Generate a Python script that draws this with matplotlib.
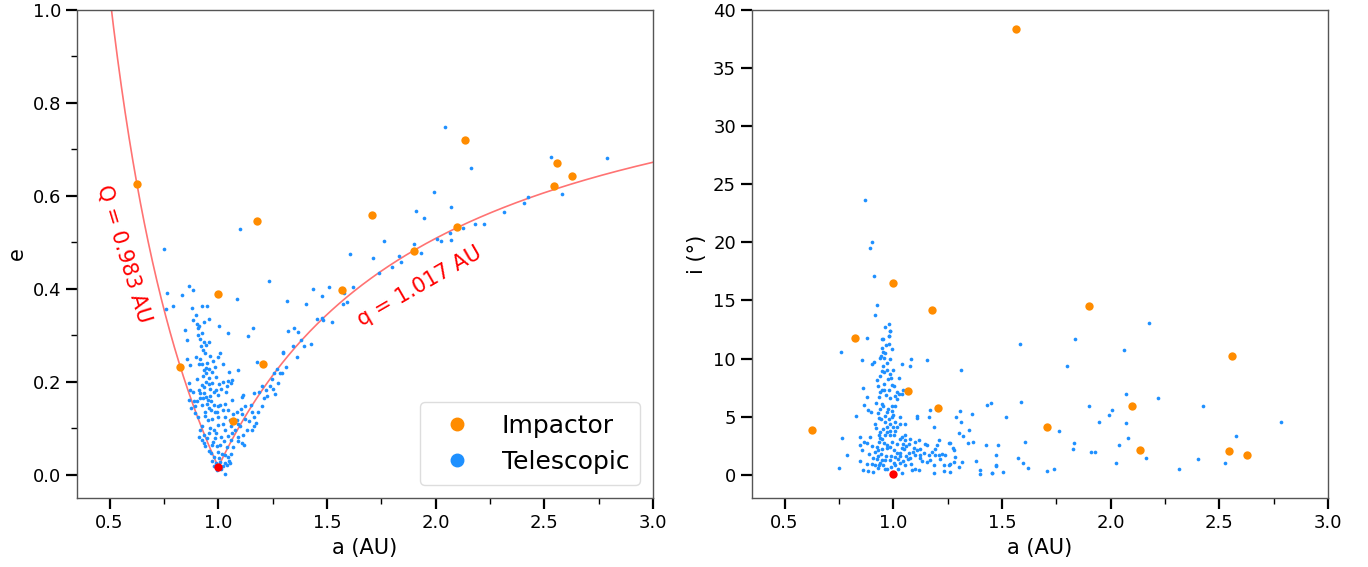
import numpy as np
import matplotlib.pyplot as plt
from matplotlib.lines import Line2D

# impactors (same objects in both panels)
imp_a = [0.625, 0.824, 1.0, 1.068, 1.18, 1.206, 1.567, 1.708, 1.90, 2.098, 2.137, 2.543, 2.557, 2.627]
imp_e = [0.625, 0.232, 0.389, 0.115, 0.545, 0.238, 0.397, 0.558, 0.482, 0.534, 0.720, 0.622, 0.670, 0.642]
imp_i = [3.86, 11.76, 16.5, 7.2, 14.19, 5.78, 38.4, 4.15, 14.5, 5.92, 2.15, 2.03, 10.2, 1.74]

# Earth
earth_a, earth_e, earth_i = 1.0, 0.0167, 0.03

# telescopic objects, (a, e)
tel_ae = [
    (2.042, 0.748), (2.164, 0.660), (1.994, 0.608), (2.072, 0.576), (1.911, 0.568), (1.947, 0.553),
    (2.183, 0.539), (2.221, 0.540), (2.125, 0.531), (2.066, 0.520), (2.008, 0.507), (2.025, 0.502),
    (2.071, 0.506), (1.763, 0.502), (1.902, 0.497), (1.931, 0.477), (1.833, 0.470), (1.839, 0.458),
    (1.799, 0.448), (1.711, 0.467), (1.606, 0.475), (1.741, 0.434), (1.232, 0.417), (1.100, 0.529),
    (1.436, 0.399), (1.508, 0.403), (1.621, 0.403), (1.476, 0.385), (1.315, 0.374), (1.404, 0.367),
    (1.580, 0.392), (1.575, 0.368), (1.594, 0.371), (1.456, 0.335), (1.476, 0.338), (1.483, 0.333),
    (1.522, 0.329), (1.321, 0.310), (1.347, 0.315), (1.368, 0.308), (1.159, 0.315), (1.381, 0.289),
    (1.345, 0.278), (1.396, 0.276), (1.428, 0.282), (1.300, 0.265), (1.364, 0.253),
    (2.787, 0.682), (2.531, 0.683), (2.581, 0.605), (2.426, 0.598), (2.407, 0.585), (2.316, 0.566),
    (0.749, 0.485), (0.866, 0.406), (0.883, 0.397), (0.832, 0.387), (0.766, 0.391), (1.088, 0.379),
    (0.791, 0.363), (0.761, 0.356), (0.881, 0.358), (0.925, 0.363), (0.950, 0.363), (0.899, 0.343),
    (0.956, 0.336), (0.884, 0.333), (0.933, 0.328), (0.904, 0.325), (0.910, 0.321), (1.004, 0.320),
    (0.908, 0.315),
    (0.847, 0.312), (0.924, 0.306), (1.047, 0.306), (1.136, 0.299), (0.858, 0.289), (0.932, 0.285),
    (0.959, 0.286), (0.942, 0.280), (0.921, 0.277), (0.929, 0.269), (1.008, 0.263), (0.998, 0.253),
    (0.896, 0.254), (0.855, 0.249), (0.912, 0.238), (0.924, 0.239), (0.869, 0.236), (0.944, 0.229),
    (0.959, 0.228), (0.936, 0.226), (0.970, 0.221), (0.944, 0.220), (1.021, 0.239), (1.178, 0.242),
    (1.298, 0.263), (1.047, 0.201), (1.065, 0.204), (1.051, 0.222), (1.089, 0.226), (1.059, 0.197),
    (1.024, 0.199), (1.001, 0.196), (0.970, 0.197), (0.955, 0.195), (0.924, 0.194), (0.936, 0.189),
    (0.912, 0.183), (0.863, 0.197), (0.869, 0.183), (0.883, 0.179), (0.866, 0.160), (0.875, 0.143),
    (0.893, 0.148), (0.901, 0.159), (0.916, 0.165), (0.942, 0.168), (0.962, 0.170), (0.978, 0.179),
    (0.988, 0.183), (0.936, 0.176), (0.952, 0.161), (0.967, 0.158), (0.927, 0.150), (0.955, 0.143),
    (0.978, 0.150), (0.998, 0.147), (0.985, 0.136), (1.024, 0.140), (1.031, 0.153), (1.062, 0.161),
    (1.085, 0.136), (1.105, 0.141), (1.123, 0.148), (1.116, 0.172), (1.108, 0.168), (1.166, 0.176),
    (1.188, 0.178), (1.200, 0.190), (1.218, 0.183), (1.238, 0.190), (1.254, 0.184), (1.261, 0.174),
    (1.277, 0.197), (1.284, 0.219), (1.295, 0.220), (1.258, 0.220), (1.203, 0.147), (1.185, 0.134),
    (1.166, 0.125), (1.154, 0.134), (1.172, 0.111), (1.166, 0.104), (1.123, 0.120), (1.088, 0.118),
    (1.053, 0.118), (1.031, 0.124), (0.998, 0.124), (0.970, 0.120), (0.952, 0.117), (0.939, 0.127),
    (0.924, 0.104), (0.916, 0.097), (0.936, 0.086), (0.955, 0.090), (0.978, 0.097), (0.990, 0.090),
    (1.011, 0.082), (1.031, 0.097), (1.047, 0.084), (1.065, 0.090), (1.077, 0.097), (1.093, 0.082),
    (1.116, 0.086), (1.120, 0.064), (1.108, 0.068), (1.093, 0.072), (1.059, 0.075), (1.028, 0.072),
    (1.008, 0.064), (0.993, 0.061), (0.970, 0.064), (0.939, 0.062), (0.955, 0.052), (0.982, 0.039),
    (1.001, 0.036), (1.031, 0.043), (1.047, 0.038), (1.050, 0.030), (1.042, 0.021), (1.054, 0.025),
    (1.031, 0.025), (1.024, 0.018), (1.013, 0.012), (1.031, 0.002), (0.993, 0.011), (0.982, 0.018),
    (0.973, 0.029), (0.965, 0.047), (0.924, 0.075), (0.932, 0.068), (0.913, 0.082), (0.947, 0.079),
    (1.131, 0.097), (1.100, 0.104), (1.154, 0.097), (0.886, 0.158), (0.893, 0.133), (0.906, 0.125),
    (1.312, 0.232), (1.270, 0.228), (1.245, 0.205),
    (0.905, 0.300), (0.915, 0.292), (0.940, 0.262), (0.962, 0.255), (0.975, 0.245), (0.918, 0.248),
    (0.950, 0.240), (0.985, 0.232), (0.930, 0.212), (0.955, 0.208), (0.990, 0.210), (0.902, 0.205),
    (0.945, 0.200), (0.960, 0.185), (0.915, 0.175), (0.930, 0.165), (1.000, 0.172), (1.012, 0.185),
    (1.035, 0.178), (1.040, 0.190), (0.948, 0.152), (0.965, 0.140), (0.940, 0.135), (0.995, 0.135),
    (1.010, 0.150), (1.045, 0.140), (1.070, 0.130), (1.000, 0.108), (1.020, 0.110), (1.060, 0.105),
    (0.960, 0.100), (0.985, 0.080), (1.040, 0.060), (1.070, 0.060), (0.975, 0.070), (1.000, 0.050),
    (1.015, 0.045), (1.060, 0.045), (0.990, 0.025), (1.010, 0.028), (1.090, 0.110), (1.140, 0.115),
    (1.110, 0.130), (1.210, 0.165), (1.225, 0.170), (1.150, 0.150),
]

# telescopic objects, (a, i in degrees)
tel_ai = [
    (0.871, 23.63), (0.900, 20.06), (0.891, 19.49), (0.910, 17.14), (0.924, 14.57), (0.914, 13.79),
    (0.960, 12.70), (0.986, 12.39), (0.979, 11.93), (0.950, 11.67), (0.880, 11.79),
    (0.952, 11.67), (0.979, 11.96), (0.984, 12.39), (0.979, 11.25), (0.946, 10.87), (0.953, 10.53),
    (0.964, 10.47), (0.938, 10.02), (0.957, 10.02), (0.984, 9.96), (0.857, 9.90), (0.911, 9.67),
    (0.903, 9.53), (0.760, 10.53), (0.953, 9.39), (0.972, 9.04), (0.957, 8.81), (0.987, 8.67),
    (0.941, 8.53), (0.923, 8.18), (0.990, 8.30), (0.995, 7.73), (1.002, 7.61), (0.862, 7.44),
    (0.946, 7.33), (0.957, 7.33), (0.938, 7.16), (0.979, 7.33), (1.015, 7.16), (1.025, 6.95),
    (1.045, 7.33), (1.041, 6.95), (1.006, 6.75), (1.018, 6.54), (0.880, 6.67), (0.934, 6.67),
    (0.946, 6.10), (0.865, 6.01), (0.941, 5.67), (0.969, 5.44), (0.992, 5.52), (0.992, 5.95),
    (1.010, 5.95), (0.883, 5.61), (0.898, 5.38), (0.829, 5.09), (0.915, 4.38), (0.934, 4.86),
    (0.944, 4.81), (0.964, 5.09), (0.979, 4.81), (0.995, 4.95), (0.987, 4.38), (1.010, 4.58),
    (1.033, 4.95), (1.030, 4.38), (1.056, 4.38), (1.018, 4.09), (0.969, 4.09), (0.999, 4.09),
    (0.953, 3.95), (0.938, 3.66), (0.934, 3.38), (0.938, 3.15), (0.949, 3.09), (0.972, 3.66),
    (0.984, 3.44), (1.002, 3.44), (1.041, 3.23), (1.033, 3.09), (1.056, 3.03), (1.056, 3.44),
    (1.079, 3.09), (1.117, 3.03), (1.102, 2.81), (1.071, 2.66), (1.045, 2.66), (1.018, 2.66),
    (0.995, 2.81), (0.972, 2.58), (0.957, 2.75), (0.934, 2.81), (0.895, 3.23), (0.880, 2.75),
    (0.849, 3.23), (0.846, 2.52), (0.857, 2.09), (0.865, 2.81), (0.765, 3.18), (0.788, 1.66),
    (0.923, 2.38), (0.929, 2.09), (0.949, 2.18), (0.972, 2.29), (0.987, 2.38), (1.002, 2.09),
    (1.018, 1.89), (1.033, 1.89), (1.048, 2.18), (1.071, 1.89), (1.094, 2.29), (1.110, 2.09),
    (1.125, 2.23), (1.148, 2.66), (1.122, 1.66), (1.102, 1.66), (1.079, 1.43), (1.067, 1.32),
    (1.045, 1.15), (1.021, 1.32), (1.002, 1.03), (0.987, 1.23), (0.964, 1.23), (0.949, 1.23),
    (0.929, 1.60), (0.923, 1.32), (0.938, 1.03), (0.953, 0.80), (0.934, 0.80), (0.918, 0.80),
    (0.903, 0.95), (0.880, 0.95), (0.849, 1.15), (0.883, 0.29), (0.862, 0.37), (0.907, 0.23),
    (0.929, 0.57), (0.750, 0.57), (0.972, 0.52), (1.010, 0.86), (1.030, 1.03), (1.041, 0.17),
    (1.087, 0.37), (1.102, 0.52), (1.117, 0.37), (1.133, 1.15), (1.125, 1.43), (1.156, 1.09),
    (1.163, 1.66), (1.186, 0.80), (1.171, 1.23), (1.194, 1.72), (1.209, 1.72), (1.225, 1.80),
    (1.240, 1.72), (1.217, 1.37), (1.232, 0.80), (1.255, 0.80), (1.263, 0.95), (1.278, 1.09),
    (1.286, 1.52), (1.275, 2.29), (1.260, 2.75), (1.278, 2.09), (1.235, 0.29), (1.263, 0.23),
    (1.301, 0.66), (1.316, 1.09), (1.186, 0.17), (1.194, 2.23), (1.209, 3.01), (1.153, 2.60),
    (1.041, 9.53), (1.079, 9.33), (1.082, 9.96), (1.156, 9.84), (1.312, 9.04), (1.168, 5.61),
    (1.163, 4.95), (1.110, 5.04), (1.107, 4.87), (1.189, 4.09), (1.290, 4.95), (1.306, 5.52),
    (1.312, 4.58), (1.362, 5.24), (1.347, 3.81), (1.301, 3.61), (1.321, 3.32), (1.255, 2.75),
    (1.343, 2.75), (1.367, 2.81), (1.431, 6.01), (1.451, 6.18), (1.480, 2.52), (1.427, 2.52),
    (1.474, 1.66), (1.379, 1.15), (1.398, 0.09), (1.401, 0.37), (1.454, 0.17), (1.474, 0.80),
    (2.179, 13.08), (1.582, 11.25), (1.837, 11.67), (2.064, 10.73), (1.798, 9.33), (2.069, 6.93),
    (2.217, 6.64), (1.588, 6.30), (1.900, 5.92), (2.006, 5.58), (1.992, 5.18), (1.519, 5.01),
    (1.945, 4.58), (2.069, 4.47), (2.423, 5.92), (2.784, 4.58), (1.761, 3.75), (2.577, 3.32),
    (2.079, 3.18), (1.605, 2.78), (1.831, 2.75), (1.828, 2.23), (2.040, 2.55), (1.908, 1.92),
    (1.929, 1.92), (1.572, 1.40), (1.595, 1.00), (1.620, 0.57), (1.474, 0.72), (1.456, 0.17),
    (1.506, 0.23), (1.709, 0.29), (1.739, 0.46), (2.023, 1.03), (2.162, 1.40), (2.314, 0.46),
    (2.404, 1.35), (2.528, 0.97),
    (0.965, 11.2), (0.945, 10.2), (0.970, 9.6), (0.948, 8.9), (0.975, 8.2), (0.958, 7.8),
    (0.930, 7.6), (0.965, 6.9), (0.985, 6.6), (0.920, 6.2), (0.955, 5.9), (0.975, 5.7),
    (0.930, 5.3), (1.000, 5.1), (0.960, 4.5), (0.920, 4.0), (0.985, 3.8), (1.010, 3.8),
    (0.960, 3.4), (0.900, 2.5), (0.915, 2.0), (0.945, 1.8), (0.965, 1.6), (0.990, 1.6),
    (1.010, 1.5), (1.030, 1.6), (1.060, 1.6), (1.060, 2.5), (1.090, 2.0), (1.040, 2.3),
    (0.905, 1.4), (0.890, 1.8), (0.960, 0.5), (0.990, 0.7), (1.020, 0.5), (1.055, 0.8),
    (1.080, 0.9), (1.140, 1.9), (1.180, 2.0), (1.200, 2.6), (0.980, 13.0), (0.995, 10.8),
    (1.000, 9.0), (1.025, 8.3),
]

Q_label, q_label = 0.983, 1.017

tel_a1, tel_e = np.array(tel_ae).T
tel_a2, tel_i = np.array(tel_ai).T

plt.rcParams['font.family'] = 'DejaVu Sans'
fig = plt.figure(figsize=(13.68, 5.67), dpi=100)
ax1 = fig.add_axes([0.0563, 0.1217, 0.421, 0.8607])
ax2 = fig.add_axes([0.5497, 0.1217, 0.421, 0.8607])

blue = '#1e90ff'
orange = '#ff8c00'

# left: a vs e
ax1.scatter(tel_a1, tel_e, s=7, color=blue, lw=0, zorder=2)
ax1.scatter(imp_a, imp_e, s=36, color=orange, lw=0, zorder=3)
ax1.scatter([earth_a], [earth_e], s=36, color='red', lw=0, zorder=4)

# boundary curves: orbits that just touch Earth's
a_left = np.linspace(q_label / 2 - 0.01, 1.0, 200)
ax1.plot(a_left, q_label / a_left - 1, color='red', alpha=0.55, lw=1.2, zorder=1)
a_right = np.linspace(1.0, 3.0, 300)
ax1.plot(a_right, 1 - Q_label / a_right, color='red', alpha=0.55, lw=1.2, zorder=1)

ax1.text(0.568, 0.475, 'Q = %.3f AU' % Q_label, color='red', fontsize=15,
         rotation=-73, ha='center', va='center', rotation_mode='anchor')
ax1.text(1.928, 0.405, 'q = %.3f AU' % q_label, color='red', fontsize=15,
         rotation=30, ha='center', va='center', rotation_mode='anchor')

ax1.set_xlim(0.35, 3.0)
ax1.set_ylim(-0.05, 1.0)
ax1.set_xticks([0.5, 1.0, 1.5, 2.0, 2.5, 3.0])
ax1.set_xticks(np.arange(0.5, 3.01, 0.25), minor=True)
ax1.set_yticks([0.0, 0.2, 0.4, 0.6, 0.8, 1.0])
ax1.set_yticks([0.1, 0.3, 0.5, 0.7, 0.9], minor=True)
ax1.set_xlabel('a (AU)', fontsize=15)
ax1.set_ylabel('e', fontsize=15)

handles = [Line2D([], [], marker='o', ls='', color=orange, markersize=9, label='Impactor'),
           Line2D([], [], marker='o', ls='', color=blue, markersize=9, label='Telescopic')]
leg = ax1.legend(handles=handles, loc='lower right', fontsize=18, framealpha=1,
                 borderpad=0.45)
leg.get_frame().set_edgecolor('#dddddd')

# right: a vs i
ax2.scatter(tel_a2, tel_i, s=7, color=blue, lw=0, zorder=2)
ax2.scatter(imp_a, imp_i, s=36, color=orange, lw=0, zorder=3)
ax2.scatter([earth_a], [earth_i], s=36, color='red', lw=0, zorder=4)
ax2.set_xlim(0.35, 3.0)
ax2.set_ylim(-2, 40)
ax2.set_xticks([0.5, 1.0, 1.5, 2.0, 2.5, 3.0])
ax2.set_xticks(np.arange(0.5, 3.01, 0.25), minor=True)
ax2.set_yticks(np.arange(0, 41, 5))
ax2.set_xlabel('a (AU)', fontsize=15)
ax2.set_ylabel('i (°)', fontsize=15)

for ax in (ax1, ax2):
    ax.tick_params(which='major', length=8, width=1.6, labelsize=13, direction='out')
    ax.tick_params(which='minor', length=4, width=1.0, direction='out')
    for sp in ax.spines.values():
        sp.set_color('#555555')
        sp.set_linewidth(1.0)

fig.savefig('out.png', dpi=100)
